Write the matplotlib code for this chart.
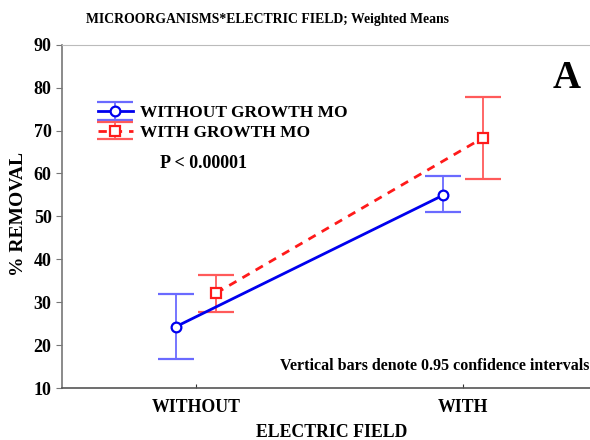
import numpy as np
import matplotlib.pyplot as plt

plt.rcParams['font.family'] = ['Liberation Serif', 'DejaVu Serif']
plt.rcParams['font.weight'] = 'bold'

## data
categories = ['WITHOUT', 'WITH']
without_mo = [24.3, 54.9]
without_lo = [16.7, 50.9]
without_hi = [31.9, 59.3]
with_mo = [32.1, 68.3]
with_lo = [27.7, 58.8]
with_hi = [36.4, 77.9]

x = np.arange(len(categories))
off = 0.075

fig = plt.figure(figsize=(5.9, 4.4), dpi=100)
ax = fig.add_axes([62/590, 1-388/440, 528/590, (388-44.7)/440])

y1 = np.array(without_mo)
err1 = [y1-np.array(without_lo), np.array(without_hi)-y1]
y2 = np.array(with_mo)
err2 = [y2-np.array(with_lo), np.array(with_hi)-y2]

ax.errorbar(x-off, y1, yerr=err1, color='#0000ee', ecolor='#6a6aff', lw=2,
            elinewidth=1.3, capsize=13, capthick=1.3, marker='o', ms=7,
            mfc='white', mec='#0000ee', mew=1.6, label='WITHOUT GROWTH MO')
ax.errorbar(x+off, y2, yerr=err2, color='#ff1a1a', ecolor='#ff5a5a', lw=2,
            ls='--', dashes=(3, 2.5), elinewidth=1.3, capsize=13, capthick=1.3,
            marker='s', ms=7, mfc='white', mec='#ff1a1a', mew=1.6,
            label='WITH GROWTH MO')

ax.set_ylim(10, 90)
ax.set_xlim(-0.502, 1.476)
ax.set_xticks(x)
ax.set_xticklabels(categories, fontsize=12.8, fontweight='bold')
ax.set_yticks(np.arange(10, 91, 10))
ax.tick_params(axis='y', labelsize=13, length=4, direction='out', color='#777777')
ax.tick_params(axis='x', length=3, direction='in', color='#333333', pad=8)
for lab in ax.get_yticklabels():
    lab.set_fontweight('bold')

ax.spines['right'].set_visible(False)
ax.spines['top'].set_color('#bbbbbb')
ax.spines['left'].set_color('#777777')
ax.spines['bottom'].set_color('#555555')
ax.spines['left'].set_linewidth(1.2)
ax.spines['bottom'].set_linewidth(1.2)

# axis titles placed directly
fig.text(332/590, 1-432/440, 'ELECTRIC FIELD', fontsize=12.8, fontweight='bold',
         ha='center', va='center')
fig.text(18.5/590, 1-214/440, '% REMOVAL', fontsize=14, fontweight='bold',
         ha='center', va='center', rotation=90)

leg = ax.legend(loc='upper left', bbox_to_anchor=(0.055, 0.845), frameon=False,
                prop={'size': 12.5, 'weight': 'bold'}, handlelength=2.0,
                handletextpad=0.4, labelspacing=0.2, borderaxespad=0)

fig.text(160/590, 1-163/440, 'P < 0.00001', fontsize=13, fontweight='bold',
         va='center')
fig.text(567/590, 1-79/440, 'A', fontsize=28, fontweight='bold',
         ha='center', va='center')
fig.text(589/590, 1-366/440, 'Vertical bars denote 0.95 confidence intervals',
         fontsize=11.5, fontweight='bold', ha='right', va='center')
fig.text(268/590, 1-20/440, 'MICROORGANISMS*ELECTRIC FIELD; Weighted Means',
         fontsize=9.9, fontweight='bold', ha='center', va='center')

plt.savefig('out.png', dpi=100)
